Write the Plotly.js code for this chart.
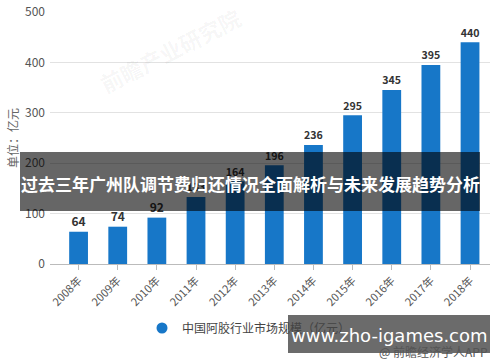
<!DOCTYPE html>
<html>
<head>
<meta charset="utf-8">
<script src="https://cdn.plot.ly/plotly-3.0.1.min.js"></script>
<style>html,body{margin:0;padding:0;background:#fff;}#chart{width:500px;height:362px;}</style>
</head>
<body>
<div id="chart"></div>
<script>
const years = ["2008年","2009年","2010年","2011年","2012年","2013年","2014年","2015年","2016年","2017年","2018年"];
const marketSize = [64, 74, 92, 133, 164, 196, 236, 295, 345, 395, 440];
const seriesName = "中国阿胶行业市场规模（亿元）";
const yTicks = [0, 100, 200, 300, 400, 500];
const bannerText = "过去三年广州队调节费归还情况全面解析与未来发展趋势分析";
const siteText = "www.zho-igames.com";
const sourceText = "@ 前瞻经济学人APP";
const yTitle = "单位：亿元";
const watermark = "前瞻产业研究院";

const blue = "#1777c8";
const font = "'Noto Sans CJK SC', 'Noto Sans', sans-serif";

const traces = [
  {
    type: "bar",
    x: years,
    y: marketSize,
    marker: {color: blue},
    text: marketSize.map(String),
    textposition: "outside",
    textfont: {family: font, size: 12, color: "#333", weight: "bold"},
    cliponaxis: false,
    showlegend: false,
    hoverinfo: "x+y"
  },
  {
    type: "scatter",
    mode: "markers",
    x: [years[0]],
    y: [null],
    name: seriesName,
    marker: {color: blue, size: 11, symbol: "circle"},
    showlegend: true
  }
];

const layout = {
  width: 500,
  height: 362,
  margin: {l: 50, r: 10, t: 12, b: 98},
  paper_bgcolor: "#fff",
  plot_bgcolor: "#fff",
  font: {family: font, color: "#555", size: 12},
  bargap: 0.52,
  xaxis: {
    type: "category",
    range: [-0.73, 10.51],
    tickangle: -45,
    tickfont: {size: 11, color: "#555"},
    ticks: "outside",
    ticklen: 5,
    tickcolor: "#bbb",
    showline: true,
    linecolor: "#bbb",
    linewidth: 1,
    showgrid: false,
    fixedrange: true
  },
  yaxis: {
    range: [0, 500],
    tickvals: yTicks,
    ticktext: yTicks.map(String),
    tickfont: {size: 12, color: "#555"},
    showgrid: true,
    gridcolor: "#e2e2e2",
    zeroline: false,
    showline: false,
    ticks: "",
    ticklabelstandoff: 4,
    fixedrange: true
  },
  showlegend: true,
  legend: {
    orientation: "h",
    x: (142 - 50) / 440,
    xanchor: "left",
    y: (264 - 328) / 252,
    yanchor: "middle",
    font: {size: 12, color: "#444", family: font},
    bgcolor: "rgba(0,0,0,0)"
  },
  shapes: [
    {
      type: "rect", xref: "paper", yref: "paper", layer: "above",
      x0: (20 - 50) / 440, x1: (480 - 50) / 440,
      y0: (264 - 211) / 252, y1: (264 - 152) / 252,
      fillcolor: "rgba(0,0,0,0.6)", line: {width: 0}
    },
    {
      type: "rect", xref: "paper", yref: "paper", layer: "above",
      x0: (288 - 50) / 440, x1: (490 - 50) / 440,
      y0: (264 - 353) / 252, y1: (264 - 315) / 252,
      fillcolor: "rgba(0,0,0,0.58)", line: {width: 0}
    }
  ],
  annotations: [
    {
      text: watermark, xref: "paper", yref: "paper",
      x: (170 - 50) / 440, y: (264 - 50) / 252,
      xanchor: "center", yanchor: "middle",
      showarrow: false, textangle: -27,
      font: {size: 22, color: "rgba(0,0,0,0.045)", family: font, weight: "bold"}
    },
    {
      text: yTitle, xref: "paper", yref: "paper",
      x: (12 - 50) / 440, y: 0.5, xanchor: "center", yanchor: "middle",
      showarrow: false, textangle: -90,
      font: {size: 12, color: "#666", family: font}
    },
    {
      text: bannerText, xref: "paper", yref: "paper",
      x: (250 - 50) / 440, y: (264 - 183) / 252, xanchor: "center", yanchor: "middle",
      showarrow: false,
      font: {size: 17, color: "#fff", family: font, weight: "bold"}
    },
    {
      text: siteText, xref: "paper", yref: "paper",
      x: (389 - 50) / 440, y: (264 - 336) / 252, xanchor: "center", yanchor: "middle",
      showarrow: false,
      font: {size: 18, color: "#fff", family: "'DejaVu Sans', sans-serif"}
    },
    {
      text: sourceText, xref: "paper", yref: "paper",
      x: (490 - 50) / 440, y: (264 - 351) / 252, xanchor: "right", yanchor: "middle",
      showarrow: false,
      font: {size: 12, color: "#555", family: font}
    }
  ]
};

Plotly.newPlot("chart", traces, layout, {displayModeBar: false, staticPlot: true});
</script>
</body>
</html>
